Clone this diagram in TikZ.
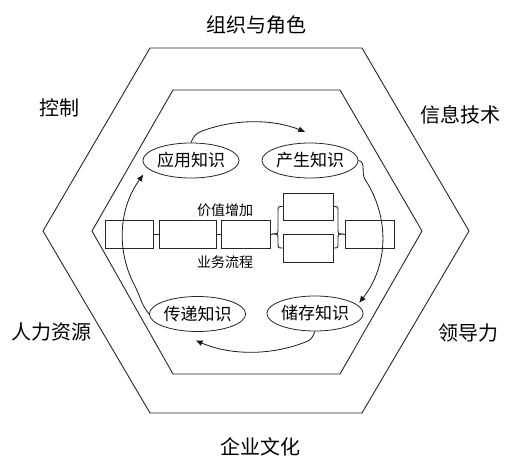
\documentclass[tikz,border=0pt]{standalone}
\usepackage{fontspec}
\setmainfont{Noto Sans CJK SC}
\usetikzlibrary{shapes.geometric,arrows.meta}
\begin{document}
\begin{tikzpicture}[x=1pt,y=1pt,
  line/.style={line width=0.9pt, draw=black!85},
  outer/.style={font=\fontsize{20}{20}\selectfont, inner sep=0pt},
  kn/.style={ellipse, draw=black!85, line width=0.8pt, minimum width=92pt, minimum height=35pt, inner sep=0pt, font=\fontsize{17}{17}\selectfont},
  box/.style={draw=black!85, line width=0.8pt, minimum height=28pt, inner sep=0pt},
  mid/.style={font=\fontsize{14}{14}\selectfont, inner sep=0pt},
  cyc/.style={line width=0.8pt, draw=black!90, -{Latex[length=7pt,width=6pt]}},
]
\useasboundingbox (0,0) rectangle (518,464);
% hexagons
\draw[line] (150,416) -- (362,416) -- (469,233) -- (362,51) -- (150,51) -- (43,233) -- cycle;
\draw[line] (173,374) -- (340,374) -- (422,233) -- (340,90) -- (173,90) -- (92,233) -- cycle;
% outer labels
\node[outer] (l1) at (256,439) {组织与角色};
\node[outer] (l2) at (59,356) {控制};
\node[outer] (l3) at (460,349) {信息技术};
\node[outer] (l4) at (51,132) {人力资源};
\node[outer] (l5) at (468,131) {领导力};
\node[outer] (l6) at (260,17) {企业文化};
% knowledge ellipses
\node[kn] (app) at (191,303.5) {应用知识};
\node[kn] (gen) at (310,303.5) {产生知识};
\node[kn] (tra) at (197.5,150) {传递知识};
\node[kn] (sto) at (315,150.5) {储存知识};
% process boxes
\node[box, minimum width=48pt] (b1) at (129,230) {};
\node[box, minimum width=57pt] (b2) at (187.5,230) {};
\node[box, minimum width=49pt] (b3) at (245.5,230) {};
\node[box, minimum width=50pt, minimum height=27pt] (b4a) at (308,257.5) {};
\node[box, minimum width=50pt] (b4b) at (308,216) {};
\node[box, minimum width=49pt] (b5) at (369.5,230) {};
\draw[line] (b1) -- (b2);
\draw[line] (b2) -- (b3);
% left brace
\coordinate (lt) at (272,230);
\draw[line] (b3.east) -- (lt);
\draw[line] (b4a.west) .. controls (278,257.5) .. (278,252) -- (278,235) .. controls (278,230) .. (lt);
\draw[line] (lt) .. controls (278,230) .. (278,225) -- (278,221) .. controls (278,216) .. (b4b.west);
% right brace
\coordinate (rt) at (343,230);
\draw[line] (rt) -- (b5.west);
\draw[line] (b4a.east) .. controls (338,257.5) .. (338,252) -- (338,235) .. controls (338,230) .. (rt);
\draw[line] (rt) .. controls (338,230) .. (338,225) -- (338,221) .. controls (338,216) .. (b4b.east);
% texts
\node[mid] (t1) at (225,254) {价值增加};
\node[mid] (t2) at (225,202) {业务流程};
% cycle arcs
\coordinate (c) at (252.5,227);
\draw[cyc] (app.north) to[out=70,in=200] ([shift={(113:130 and 115)}]c) arc[start angle=113, end angle=66, x radius=130, y radius=115];
\draw[cyc] (gen.east) to[out=-10,in=123] ([shift={(30:130 and 115)}]c) arc[start angle=30, end angle=-35, x radius=130, y radius=115];
\draw[cyc] (sto.south) to[out=-115,in=22] ([shift={(-65:130 and 115)}]c) arc[start angle=-65, end angle=-116, x radius=130, y radius=115];
\draw[cyc] (tra.west) to[out=130,in=298] ([shift={(205:130 and 115)}]c) arc[start angle=205, end angle=147, x radius=130, y radius=115];
\end{tikzpicture}
\end{document}
